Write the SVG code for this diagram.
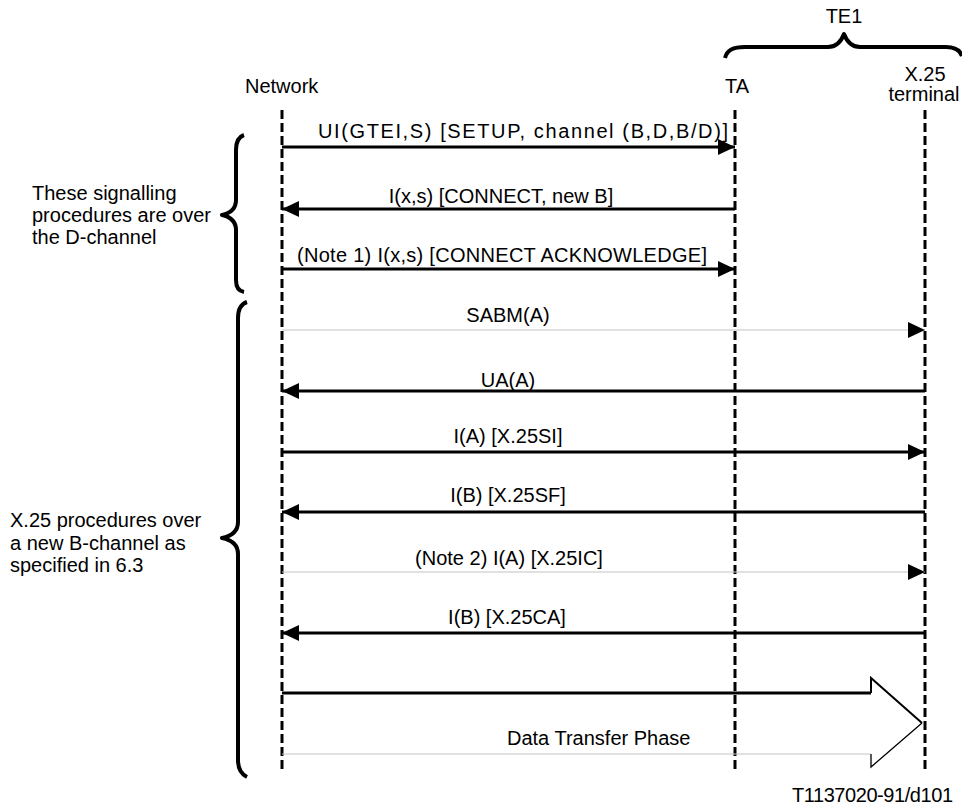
<svg xmlns="http://www.w3.org/2000/svg" width="962" height="809" viewBox="0 0 962 809">
  <style>
    text { font-family: "Liberation Sans", Arial, sans-serif; font-size: 20px; fill: #000; }
    .mid { text-anchor: middle; }
    .life { fill: none; stroke: #000; stroke-width: 3; stroke-dasharray: 9 4; }
    .msg { fill: none; stroke: #000; stroke-width: 3; }
    .faint { fill: none; stroke: #c4c4c4; stroke-width: 1.2; }
    .brace { fill: none; stroke: #000; stroke-width: 4; stroke-linejoin: round; }
    .bigarrow { fill: none; stroke: #000; stroke-width: 2; }
  </style>
  <defs>
    <marker id="ah" viewBox="0 0 17 16" refX="17" refY="8" markerWidth="17" markerHeight="16" markerUnits="userSpaceOnUse" orient="auto">
      <path d="M0,0 L17,8 L0,16 Z" fill="#000"/>
    </marker>
  </defs>
  <rect width="962" height="809" fill="#fff"/>

  <!-- lifelines -->
  <g id="network">
    <text x="245" y="93">Network</text>
    <line class="life" x1="282" y1="110" x2="282" y2="770"/>
  </g>
  <g id="ta">
    <text class="mid" x="737" y="93">TA</text>
    <line class="life" x1="735" y1="110" x2="735" y2="770"/>
  </g>
  <g id="x25-terminal">
    <text class="mid" x="925" y="81" font-size="19">X.25</text>
    <text class="mid" x="924" y="101" font-size="19">terminal</text>
    <line class="life" x1="925" y1="110" x2="925" y2="770"/>
  </g>

  <!-- TE1 grouping over TA and terminal -->
  <g id="te1">
    <text class="mid" x="844" y="23">TE1</text>
    <path class="brace" d="M725,58 C727,50 733,47 745,47 L828,47 C836,47 841,42 844,34 C847,42 852,47 860,47 L946,47 C955,47 960,50 962,56"/>
  </g>

  <!-- phase annotations -->
  <g id="d-channel-phase">
    <path class="brace" d="M244,135 C238,137 236,142 236,150 L236,200 C236,208 231,213 222,215 C231,217 236,222 236,230 L236,280 C236,287 238,291 244,292"/>
    <text x="32" y="200">These signalling</text>
    <text x="32" y="222">procedures are over</text>
    <text x="32" y="244">the D-channel</text>
  </g>
  <g id="b-channel-phase">
    <path class="brace" d="M247,302 C241,304 238,310 238,318 L238,522 C238,531 232,536 222,538 C232,540 238,545 238,554 L238,760 C238,768 241,774 247,777"/>
    <text x="10" y="527">X.25 procedures over</text>
    <text x="10" y="550">a new B-channel as</text>
    <text x="10" y="572">specified in 6.3</text>
  </g>

  <!-- messages -->
  <g id="connectors">
    <g id="m1">
      <line class="msg" x1="282" y1="147" x2="735" y2="147" marker-end="url(#ah)"/>
      <text x="318" y="138" textLength="410" lengthAdjust="spacing">UI(GTEI,S) [SETUP, channel  (B,D,B/D)]</text>
    </g>
    <g id="m2">
      <line class="msg" x1="735" y1="209" x2="282" y2="209" marker-end="url(#ah)"/>
      <text class="mid" x="501" y="203">I(x,s) [CONNECT, new B]</text>
    </g>
    <g id="m3">
      <line class="msg" x1="282" y1="269" x2="735" y2="269" marker-end="url(#ah)"/>
      <text x="297" y="262" textLength="410" lengthAdjust="spacing">(Note 1) I(x,s) [CONNECT ACKNOWLEDGE]</text>
    </g>
    <g id="m4">
      <line class="faint" x1="282" y1="330" x2="925" y2="330" marker-end="url(#ah)"/>
      <text class="mid" x="508" y="322">SABM(A)</text>
    </g>
    <g id="m5">
      <line class="msg" x1="925" y1="391" x2="282" y2="391" marker-end="url(#ah)"/>
      <text class="mid" x="508" y="387">UA(A)</text>
    </g>
    <g id="m6">
      <line class="msg" x1="282" y1="452" x2="925" y2="452" marker-end="url(#ah)"/>
      <text class="mid" x="508" y="443">I(A) [X.25SI]</text>
    </g>
    <g id="m7">
      <line class="msg" x1="925" y1="512" x2="282" y2="512" marker-end="url(#ah)"/>
      <text class="mid" x="508" y="502">I(B) [X.25SF]</text>
    </g>
    <g id="m8">
      <line class="faint" x1="282" y1="572" x2="925" y2="572" marker-end="url(#ah)"/>
      <text class="mid" x="509" y="565">(Note 2) I(A) [X.25IC]</text>
    </g>
    <g id="m9">
      <line class="msg" x1="925" y1="633" x2="282" y2="633" marker-end="url(#ah)"/>
      <text class="mid" x="507" y="624">I(B) [X.25CA]</text>
    </g>
    <g id="data-transfer">
      <line class="msg" x1="282" y1="693" x2="871" y2="693"/>
      <line class="faint" x1="282" y1="754" x2="871" y2="754"/>
      <polyline class="bigarrow" points="871,693 871,678 922,723"/>
      <polyline fill="none" stroke="#000" stroke-width="1.3" points="922,723 871,767 871,754"/>
      <text x="507" y="745">Data Transfer Phase</text>
    </g>
  </g>

  <text x="792" y="802" font-size="17" textLength="161" lengthAdjust="spacing">T1137020-91/d101</text>
</svg>
